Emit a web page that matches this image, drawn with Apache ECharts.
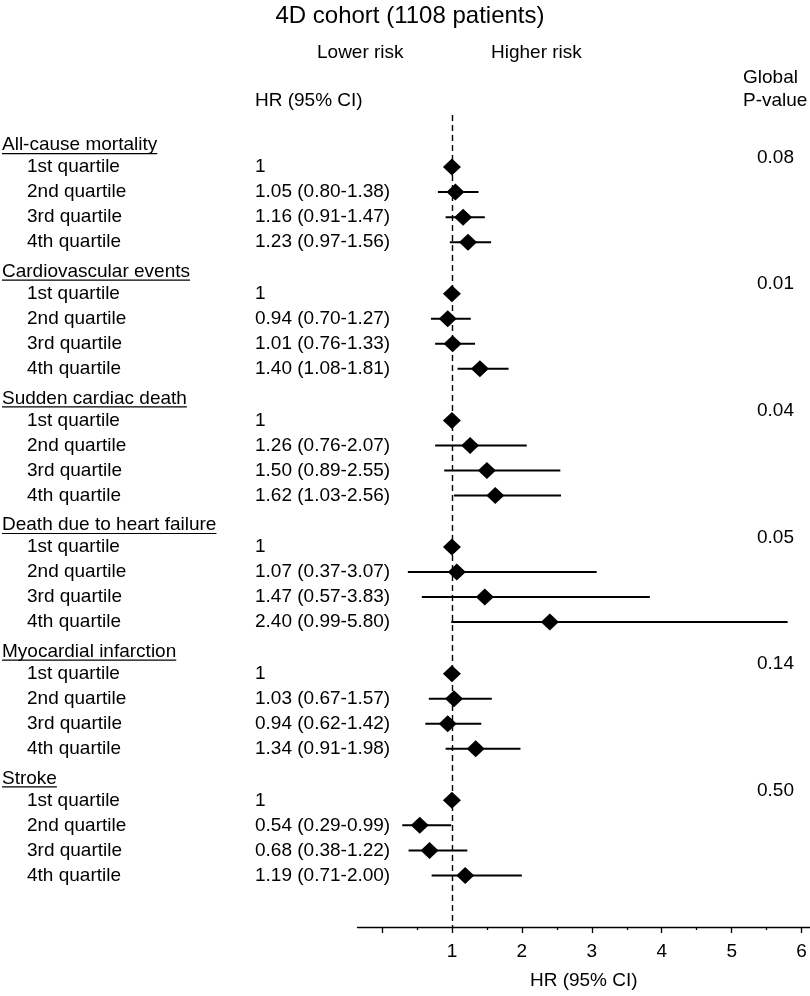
<!DOCTYPE html>
<html>
<head>
<meta charset="utf-8">
<script src="https://cdn.jsdelivr.net/npm/echarts@6/dist/echarts.min.js"></script>
<style>
html,body{margin:0;padding:0;background:#fff;}
#chart{width:810px;height:996px;}
</style>
</head>
<body>
<div id="chart"></div>
<script>
// ---------------- data ----------------
const titleText = '4D cohort (1108 patients)';
const outcomes = ['All-cause mortality', 'Cardiovascular events', 'Sudden cardiac death',
  'Death due to heart failure', 'Myocardial infarction', 'Stroke'];
const quartiles = ['1st quartile', '2nd quartile', '3rd quartile', '4th quartile'];
const hrValues = [
  [1, 1.05, 1.16, 1.23],
  [1, 0.94, 1.01, 1.40],
  [1, 1.26, 1.50, 1.62],
  [1, 1.07, 1.47, 2.40],
  [1, 1.03, 0.94, 1.34],
  [1, 0.54, 0.68, 1.19]
];
const ciLow = [
  [null, 0.80, 0.91, 0.97],
  [null, 0.70, 0.76, 1.08],
  [null, 0.76, 0.89, 1.03],
  [null, 0.37, 0.57, 0.99],
  [null, 0.67, 0.62, 0.91],
  [null, 0.29, 0.38, 0.71]
];
const ciHigh = [
  [null, 1.38, 1.47, 1.56],
  [null, 1.27, 1.33, 1.81],
  [null, 2.07, 2.55, 2.56],
  [null, 3.07, 3.83, 5.80],
  [null, 1.57, 1.42, 1.98],
  [null, 0.99, 1.22, 2.00]
];
const pValues = ['0.08', '0.01', '0.04', '0.05', '0.14', '0.50'];
const majorTicks = [0, 1, 2, 3, 4, 5, 6];
const tickLabels = [1, 2, 3, 4, 5, 6];
const minorTicks = [0.5, 1.5, 2.5, 3.5, 4.5, 5.5];
const referenceHR = 1;

// ---------------- layout ----------------
const FONT = '"Liberation Sans", Arial, Helvetica, sans-serif';
const FS = 19;
const GROUP_STEP = 5.06;
const HEADER_GAP = 0.88;

const rowsCI = [];
const rowsPoint = [];
outcomes.forEach((o, g) => {
  quartiles.forEach((q, j) => {
    const y = g * GROUP_STEP + HEADER_GAP + j;
    rowsPoint.push([hrValues[g][j], y]);
    if (ciLow[g][j] != null) rowsCI.push([ciLow[g][j], ciHigh[g][j], y]);
  });
});

const chart = echarts.init(document.getElementById('chart'), null, {renderer: 'canvas'});

const gridBox = {left: 357.5, right: 0, top: 115, bottom: 69, containLabel: false};
const X_MIN = -0.35, X_MAX = 6.12;
const Y_MIN = -1.2, Y_MAX = 31.24;

chart.setOption({
  animation: false,
  backgroundColor: '#fff',
  grid: [Object.assign({}, gridBox), Object.assign({}, gridBox)],
  xAxis: [
    {
      gridIndex: 0, type: 'value', min: X_MIN, max: X_MAX, position: 'bottom',
      splitLine: {show: false},
      axisLine: {show: true, onZero: false, lineStyle: {color: '#000', width: 1.3}},
      axisTick: {show: true, customValues: majorTicks, length: 6, lineStyle: {color: '#000', width: 1.3}},
      axisLabel: {show: true, customValues: tickLabels, color: '#000', fontSize: FS, fontFamily: FONT, margin: 15},
      name: 'HR (95% CI)', nameLocation: 'middle', nameGap: 44,
      nameTextStyle: {color: '#000', fontSize: FS, fontFamily: FONT}
    },
    {
      gridIndex: 1, type: 'value', min: X_MIN, max: X_MAX, position: 'bottom',
      splitLine: {show: false},
      axisLine: {show: false, onZero: false},
      axisTick: {show: true, customValues: minorTicks, length: 3, lineStyle: {color: '#000', width: 1.3}},
      axisLabel: {show: false}
    }
  ],
  yAxis: [
    {gridIndex: 0, type: 'value', inverse: true, min: Y_MIN, max: Y_MAX, show: false},
    {gridIndex: 1, type: 'value', inverse: true, min: Y_MIN, max: Y_MAX, show: false}
  ],
  series: [
    {
      type: 'custom',
      xAxisIndex: 0, yAxisIndex: 0,
      z: 2,
      data: rowsCI,
      renderItem: function (params, api) {
        const a = api.coord([api.value(0), api.value(2)]);
        const b = api.coord([api.value(1), api.value(2)]);
        return {type: 'line', shape: {x1: a[0], y1: a[1], x2: b[0], y2: b[1]},
          style: {stroke: '#000', lineWidth: 2}};
      },
      markLine: {
        silent: true, symbol: 'none', label: {show: false},
        lineStyle: {color: '#000', width: 1.4, type: [6, 4]},
        data: [{xAxis: referenceHR}]
      }
    },
    {
      type: 'scatter',
      xAxisIndex: 0, yAxisIndex: 0,
      z: 3,
      symbol: 'diamond',
      symbolSize: [18, 17],
      itemStyle: {color: '#000', opacity: 1},
      data: rowsPoint
    }
  ]
});

// ---------------- text ----------------
const ctx = document.createElement('canvas').getContext('2d');
ctx.font = FS + 'px ' + FONT;
const yPix = k => chart.convertToPixel({yAxisIndex: 0}, k);
const txt = (x, y, text, opts) => Object.assign({
  type: 'text', x: x, y: y, silent: true,
  style: {text: text, fill: '#000', font: FS + 'px ' + FONT, textAlign: 'left', textVerticalAlign: 'middle'}
}, opts || {});

const g = [];
g.push(txt(410, 16, titleText, {style: {text: titleText, fill: '#000', font: '24px ' + FONT, textAlign: 'center', textVerticalAlign: 'middle'}}));
g.push(txt(317, 53, 'Lower risk'));
g.push(txt(491, 53, 'Higher risk'));
g.push(txt(255, 101, 'HR (95% CI)'));
g.push(txt(743, 78, 'Global'));
g.push(txt(743, 101, 'P-value'));

outcomes.forEach((o, gi) => {
  const hy = yPix(gi * GROUP_STEP);
  g.push(txt(2, hy, o));
  const w = ctx.measureText(o).width;
  g.push({type: 'line', silent: true, shape: {x1: 2, y1: hy + 8.5, x2: 2 + w, y2: hy + 8.5},
    style: {stroke: '#000', lineWidth: 1.2}});
  g.push(txt(757, yPix(gi * GROUP_STEP + 0.5), pValues[gi]));
  quartiles.forEach((q, j) => {
    const ry = yPix(gi * GROUP_STEP + HEADER_GAP + j);
    g.push(txt(27, ry, q));
    const hr = hrValues[gi][j];
    const label = ciLow[gi][j] == null ? String(hr)
      : hr.toFixed(2) + ' (' + ciLow[gi][j].toFixed(2) + '-' + ciHigh[gi][j].toFixed(2) + ')';
    g.push(txt(255, ry, label));
  });
});

chart.setOption({graphic: {elements: g}});
</script>
</body>
</html>
